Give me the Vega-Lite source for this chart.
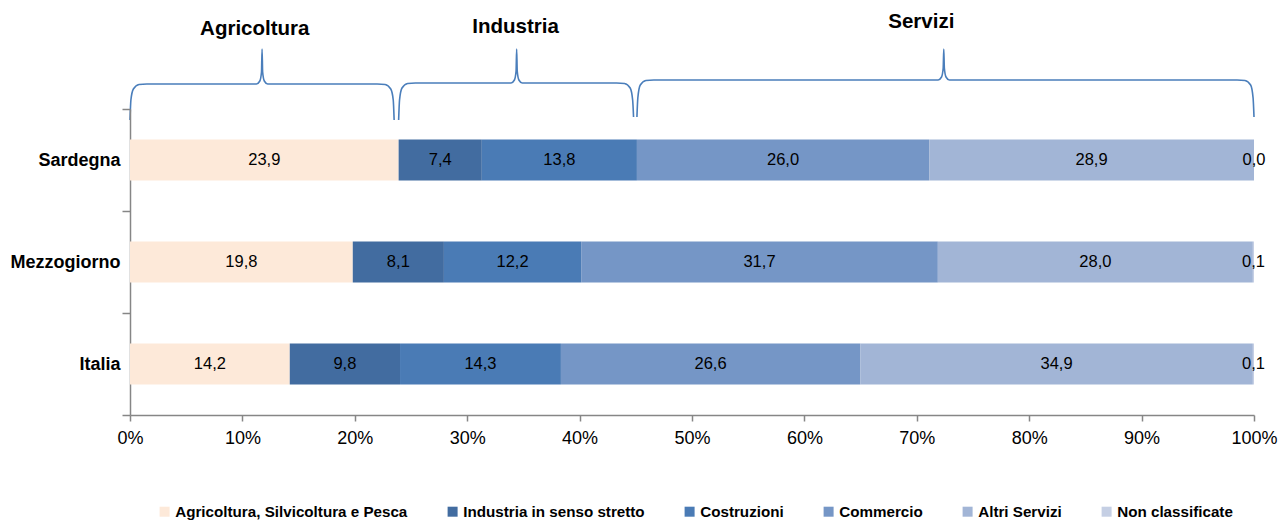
{
  "$schema": "https://vega.github.io/schema/vega-lite/v6.json",
  "padding": {"left": 10, "top": 0, "right": 4, "bottom": 0},
  "bounds": "flush",
  "spacing": 0,
  "config": {
    "locale": {"number": {"decimal": ",", "thousands": ".", "grouping": [3], "currency": ["€", ""]}},
    "view": {"stroke": null},
    "font": "'Liberation Sans', Arial, sans-serif"
  },
  "datasets": {
    "shares": [
      {"region": "Sardegna", "sector": "Agricoltura, Silvicoltura e Pesca", "k": 1, "value": 23.9},
      {"region": "Sardegna", "sector": "Industria in senso stretto", "k": 2, "value": 7.4},
      {"region": "Sardegna", "sector": "Costruzioni", "k": 3, "value": 13.8},
      {"region": "Sardegna", "sector": "Commercio", "k": 4, "value": 26.0},
      {"region": "Sardegna", "sector": "Altri Servizi", "k": 5, "value": 28.9},
      {"region": "Sardegna", "sector": "Non classificate", "k": 6, "value": 0.0},
      {"region": "Mezzogiorno", "sector": "Agricoltura, Silvicoltura e Pesca", "k": 1, "value": 19.8},
      {"region": "Mezzogiorno", "sector": "Industria in senso stretto", "k": 2, "value": 8.1},
      {"region": "Mezzogiorno", "sector": "Costruzioni", "k": 3, "value": 12.2},
      {"region": "Mezzogiorno", "sector": "Commercio", "k": 4, "value": 31.7},
      {"region": "Mezzogiorno", "sector": "Altri Servizi", "k": 5, "value": 28.0},
      {"region": "Mezzogiorno", "sector": "Non classificate", "k": 6, "value": 0.1},
      {"region": "Italia", "sector": "Agricoltura, Silvicoltura e Pesca", "k": 1, "value": 14.2},
      {"region": "Italia", "sector": "Industria in senso stretto", "k": 2, "value": 9.8},
      {"region": "Italia", "sector": "Costruzioni", "k": 3, "value": 14.3},
      {"region": "Italia", "sector": "Commercio", "k": 4, "value": 26.6},
      {"region": "Italia", "sector": "Altri Servizi", "k": 5, "value": 34.9},
      {"region": "Italia", "sector": "Non classificate", "k": 6, "value": 0.1}
    ],
    "braces": [
      {"g": "Agricoltura", "x": 0, "h": 0}, {"g": "Agricoltura", "x": 0.08, "h": 20}, {"g": "Agricoltura", "x": 0.3, "h": 31}, {"g": "Agricoltura", "x": 0.8, "h": 35.5}, {"g": "Agricoltura", "x": 1.5, "h": 36},
      {"g": "Agricoltura", "x": 11.25, "h": 36}, {"g": "Agricoltura", "x": 11.55, "h": 39}, {"g": "Agricoltura", "x": 11.7, "h": 48}, {"g": "Agricoltura", "x": 11.75, "h": 71}, {"g": "Agricoltura", "x": 11.8, "h": 48}, {"g": "Agricoltura", "x": 11.95, "h": 39}, {"g": "Agricoltura", "x": 12.25, "h": 36},
      {"g": "Agricoltura", "x": 22.0, "h": 36}, {"g": "Agricoltura", "x": 22.7, "h": 35.5}, {"g": "Agricoltura", "x": 23.2, "h": 31}, {"g": "Agricoltura", "x": 23.42, "h": 20}, {"g": "Agricoltura", "x": 23.5, "h": 0},
      {"g": "Industria", "x": 23.9, "h": 0}, {"g": "Industria", "x": 23.98, "h": 20}, {"g": "Industria", "x": 24.2, "h": 32}, {"g": "Industria", "x": 24.7, "h": 36.5}, {"g": "Industria", "x": 25.4, "h": 37},
      {"g": "Industria", "x": 33.9, "h": 37}, {"g": "Industria", "x": 34.2, "h": 40}, {"g": "Industria", "x": 34.35, "h": 49}, {"g": "Industria", "x": 34.4, "h": 71}, {"g": "Industria", "x": 34.45, "h": 49}, {"g": "Industria", "x": 34.6, "h": 40}, {"g": "Industria", "x": 34.9, "h": 37},
      {"g": "Industria", "x": 43.3, "h": 37}, {"g": "Industria", "x": 44.0, "h": 36.5}, {"g": "Industria", "x": 44.5, "h": 32}, {"g": "Industria", "x": 44.72, "h": 20}, {"g": "Industria", "x": 44.8, "h": 3},
      {"g": "Servizi", "x": 45.1, "h": 3}, {"g": "Servizi", "x": 45.18, "h": 22}, {"g": "Servizi", "x": 45.4, "h": 35}, {"g": "Servizi", "x": 45.9, "h": 39.5}, {"g": "Servizi", "x": 46.6, "h": 40},
      {"g": "Servizi", "x": 71.9, "h": 40}, {"g": "Servizi", "x": 72.2, "h": 43}, {"g": "Servizi", "x": 72.35, "h": 52}, {"g": "Servizi", "x": 72.4, "h": 71}, {"g": "Servizi", "x": 72.45, "h": 52}, {"g": "Servizi", "x": 72.6, "h": 43}, {"g": "Servizi", "x": 72.9, "h": 40},
      {"g": "Servizi", "x": 98.5, "h": 40}, {"g": "Servizi", "x": 99.2, "h": 39.5}, {"g": "Servizi", "x": 99.7, "h": 35}, {"g": "Servizi", "x": 99.92, "h": 22}, {"g": "Servizi", "x": 100, "h": 3}
    ],
    "groups": [
      {"g": "Agricoltura", "x": 11.1, "h": 91},
      {"g": "Industria", "x": 34.3, "h": 93},
      {"g": "Servizi", "x": 70.4, "h": 98}
    ]
  },
  "vconcat": [
    {
      "width": 1124,
      "height": 109,
      "layer": [
        {
          "data": {"name": "braces"},
          "mark": {"type": "line", "interpolate": "monotone", "color": "#4a7ebb", "strokeWidth": 1.6},
          "encoding": {
            "x": {"field": "x", "type": "quantitative", "scale": {"domain": [0, 100], "nice": false}, "axis": null},
            "y": {"field": "h", "type": "quantitative", "scale": {"domain": [11, 120], "nice": false, "zero": false}, "axis": null},
            "detail": {"field": "g"}
          }
        },
        {
          "data": {"name": "groups"},
          "mark": {"type": "text", "fontSize": 20.5, "fontWeight": "bold", "color": "black", "baseline": "middle"},
          "encoding": {
            "x": {"field": "x", "type": "quantitative", "scale": {"domain": [0, 100], "nice": false}, "axis": null},
            "y": {"field": "h", "type": "quantitative", "scale": {"domain": [11, 120], "nice": false, "zero": false}, "axis": null},
            "text": {"field": "g"}
          }
        }
      ]
    },
    {
      "width": 1124,
      "height": 306,
      "data": {"name": "shares"},
      "encoding": {
        "y": {
          "field": "region", "type": "nominal", "sort": ["Sardegna", "Mezzogiorno", "Italia"],
          "scale": {"paddingInner": 0, "paddingOuter": 0},
          "axis": {"title": null, "labelFontSize": 18, "labelFontWeight": "bold", "labelColor": "black", "domainColor": "#868686", "tickColor": "#868686", "tickSize": 8, "labelPadding": 2, "tickBand": "extent", "domainWidth": 1.5, "tickWidth": 1.5}
        }
      },
      "layer": [
        {
          "mark": {"type": "bar", "height": {"band": 0.4}},
          "encoding": {
            "x": {
              "field": "value", "type": "quantitative", "stack": "normalize",
              "scale": {"domain": [0, 1], "nice": false},
              "axis": {"title": null, "format": "%", "values": [0, 0.1, 0.2, 0.3, 0.4, 0.5, 0.6, 0.7, 0.8, 0.9, 1], "grid": false, "labelFlush": false, "labelFontSize": 18, "labelColor": "black", "domainColor": "#868686", "tickColor": "#868686", "tickSize": 6, "labelPadding": 8, "domainWidth": 1.5, "tickWidth": 1.5}
            },
            "order": {"field": "k"},
            "color": {
              "field": "sector", "type": "nominal",
              "scale": {
                "domain": ["Agricoltura, Silvicoltura e Pesca", "Industria in senso stretto", "Costruzioni", "Commercio", "Altri Servizi", "Non classificate"],
                "range": ["#fde9d9", "#426ca0", "#4a7bb5", "#7596c6", "#a2b5d6", "#c5cfe4"]
              },
              "legend": {
                "title": null, "orient": "none", "direction": "horizontal", "legendX": 27, "legendY": 504,
                "symbolType": "square", "symbolSize": 100, "symbolStrokeWidth": 0, "symbolOpacity": 1,
                "labelFontSize": 15.2, "labelFontWeight": "bold", "labelColor": "black", "labelOffset": 3,
                "columnPadding": 37, "labelLimit": 400
              }
            }
          }
        },
        {
          "mark": {"type": "text", "fontSize": 16.5, "color": "black", "baseline": "middle"},
          "encoding": {
            "x": {"field": "value", "type": "quantitative", "stack": "normalize", "bandPosition": 0.5},
            "detail": {"field": "sector"},
            "order": {"field": "k"},
            "text": {"field": "value", "type": "quantitative", "format": ".1f"}
          }
        }
      ]
    }
  ]
}
